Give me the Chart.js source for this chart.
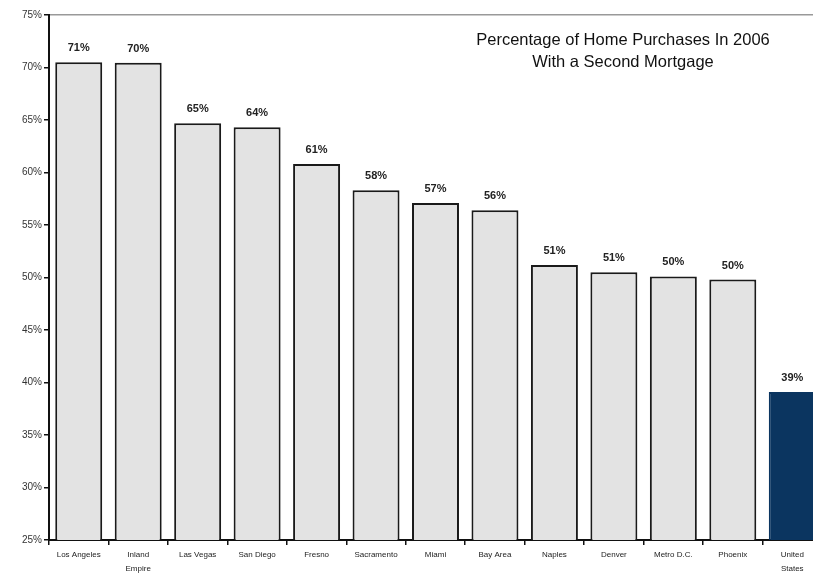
<!DOCTYPE html>
<html>
<head>
<meta charset="utf-8">
<script src="https://cdn.jsdelivr.net/npm/chart.js@4"></script>
<style>
  html, body { margin: 0; padding: 0; background: #fff; overflow: hidden; }
  #wrap { width: 830px; height: 573px; }
</style>
</head>
<body>
<div id="wrap"><canvas id="chart"></canvas></div>
<script>
// data
const markets = [
  'Los Angeles', ['Inland', 'Empire'], 'Las Vegas', 'San Diego', 'Fresno',
  'Sacramento', 'Miami', 'Bay Area', 'Naples', 'Denver', 'Metro D.C.',
  'Phoenix', ['United', 'States']
];
const secondMortgagePct = [70.5, 70.45, 64.7, 64.3, 60.8, 58.3, 57.1, 56.4, 51.2, 50.5, 50.1, 49.8, 39.1];
const yTicks = [25, 30, 35, 40, 45, 50, 55, 60, 65, 70, 75];
const titleLines = ['Percentage of Home Purchases In 2006', 'With a Second Mortgage'];

const GRAY = '#e3e3e3';
const NAVY = '#0b3560';
const lastIdx = secondMortgagePct.length - 1;

// value labels above bars + title inside the plot
const barLabels = {
  id: 'barLabels',
  afterDatasetsDraw(chart) {
    const ctx = chart.ctx;
    const meta = chart.getDatasetMeta(0);
    ctx.save();
    ctx.font = 'bold 11px "Liberation Sans", Arial, sans-serif';
    ctx.fillStyle = '#222';
    ctx.textAlign = 'center';
    ctx.textBaseline = 'middle';
    meta.data.forEach((bar, i) => {
      ctx.fillText(Math.round(secondMortgagePct[i]) + '%', bar.x, bar.y - 14);
    });
    const area = chart.chartArea;
    ctx.font = '16.5px "Liberation Sans", Arial, sans-serif';
    ctx.fillStyle = '#111';
    titleLines.forEach((t, i) => {
      ctx.fillText(t, 623, area.top + 25 + i * 22);
    });
    ctx.restore();
  }
};

new Chart(document.getElementById('chart'), {
  type: 'bar',
  data: {
    labels: markets,
    datasets: [{
      data: secondMortgagePct,
      backgroundColor: secondMortgagePct.map((v, i) => i === lastIdx ? NAVY : GRAY),
      borderColor: secondMortgagePct.map((v, i) => i === lastIdx ? NAVY : '#1a1a1a'),
      borderWidth: 2,
      borderSkipped: 'bottom',
      categoryPercentage: 1,
      barPercentage: 0.79
    }]
  },
  options: {
    responsive: true,
    maintainAspectRatio: false,
    animation: false,
    layout: { padding: { top: 15, right: 8, left: 0, bottom: 0 } },
    plugins: { legend: { display: false }, tooltip: { enabled: false } },
    scales: {
      x: {
        afterFit(scale) { scale.height = 33; },
        grid: {
          offset: true,
          drawOnChartArea: false,
          tickLength: 5,
          tickColor: '#111',
          lineWidth: 1.5
        },
        border: { display: true, color: '#111', width: 2 },
        ticks: {
          color: '#222',
          padding: 3,
          maxRotation: 0,
          autoSkip: false,
          font: { family: '"Liberation Sans", Arial, sans-serif', size: 8, lineHeight: 1.75 }
        }
      },
      y: {
        min: 25,
        max: 75,
        afterFit(scale) { scale.width = 49; },
        afterBuildTicks(scale) { scale.ticks = yTicks.map(v => ({ value: v })); },
        grid: {
          color: (c) => c.tick && c.tick.value === 75 ? '#999' : 'rgba(0,0,0,0)',
          lineWidth: 1.5,
          tickLength: 5,
          tickColor: '#111'
        },
        border: { display: true, color: '#111', width: 2 },
        ticks: {
          color: '#333',
          padding: 2,
          font: { family: '"Liberation Sans", Arial, sans-serif', size: 10 },
          callback: (v) => v + '%'
        }
      }
    }
  },
  plugins: [barLabels]
});
</script>
</body>
</html>
